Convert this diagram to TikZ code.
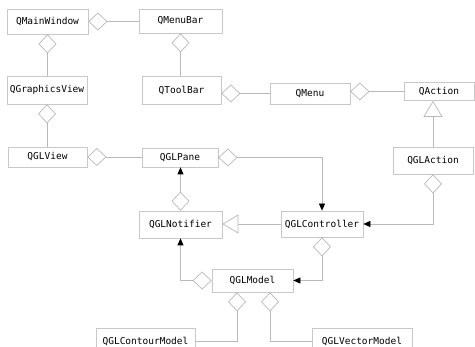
\documentclass[tikz,border=0pt]{standalone}
\usepackage{fontspec}
\setmonofont{DejaVu Sans Mono}
\usetikzlibrary{arrows.meta}
\definecolor{boxgray}{RGB}{200,200,200}
\definecolor{linegray}{RGB}{185,185,185}
\begin{document}
\begin{tikzpicture}[x=1pt,y=-1pt,
  cls/.style={draw=boxgray, line width=0.7pt, fill=white, inner sep=0pt,
    font=\fontsize{9.5}{11}\selectfont\ttfamily},
  conn/.style={draw=linegray, line width=0.7pt},
  agg/.style={conn, {Diamond[open,length=19pt,width=18pt]}-},
  aggto/.style={conn, {Diamond[open,length=19pt,width=18pt]}-{Triangle[length=7pt,width=6pt,color=black]}},
  inh/.style={conn, -{Triangle[open,length=16pt,width=19pt]}}]
\fill[white] (0,0) rectangle (475,347);
\useasboundingbox (0,0) rectangle (475,347);

% classes
\node[cls, minimum width=81pt, minimum height=25pt] (QMainWindow) at (47.5,21.5) {QMainWindow};
\node[cls, minimum width=83pt, minimum height=24pt] (QMenuBar) at (180.5,21) {QMenuBar};
\node[cls, minimum width=80pt, minimum height=28pt] (QGraphicsView) at (47,90) {QGraphicsView};
\node[cls, minimum width=79pt, minimum height=28pt] (QToolBar) at (181.5,90) {QToolBar};
\node[cls, minimum width=80pt, minimum height=21pt] (QMenu) at (310,93.5) {QMenu};
\node[cls, minimum width=70pt, minimum height=18pt] (QAction) at (439,91.5) {QAction};
\node[cls, minimum width=79pt, minimum height=20pt] (QGLView) at (47.5,157) {QGLView};
\node[cls, minimum width=76pt, minimum height=19pt] (QGLPane) at (180,157.5) {QGLPane};
\node[cls, minimum width=80pt, minimum height=27pt] (QGLAction) at (433,160.5) {QGLAction};
\node[cls, minimum width=83pt, minimum height=27pt] (QGLNotifier) at (180.5,224.5) {QGLNotifier};
\node[cls, minimum width=82pt, minimum height=26pt] (QGLController) at (322,224) {QGLController};
\node[cls, minimum width=81pt, minimum height=23pt] (QGLModel) at (252.5,280.5) {QGLModel};
\node[cls, minimum width=99pt, minimum height=26pt] (QGLContourModel) at (145.5,341) {QGLContourModel};
\node[cls, minimum width=100pt, minimum height=26pt] (QGLVectorModel) at (362,341) {QGLVectorModel};

% aggregation points under QGLModel
\coordinate (mL) at ([xshift=-15.5pt]QGLModel.south);
\coordinate (mR) at ([xshift=17.5pt]QGLModel.south);

% connectors
\draw[agg] (QMainWindow.east) -- (QMainWindow.east -| QMenuBar.west);
\draw[agg] (QMainWindow.south) -- (QMainWindow.south |- QGraphicsView.north);
\draw[agg] (QMenuBar.south) -- (QMenuBar.south |- QToolBar.north);
\draw[agg] (QToolBar.east |- QMenu.west) -- (QMenu.west);
\draw[agg] (QMenu.east |- QAction.west) -- (QAction.west);
\draw[inh] (QGLAction.north) -- (QGLAction.north |- QAction.south);
\draw[agg] (QGraphicsView.south) -- (QGraphicsView.south |- QGLView.north);
\draw[agg] (QGLView.east) -- (QGLView.east -| QGLPane.west);
\draw[aggto] (QGLPane.east) -- (QGLController.north |- QGLPane.east) -- (QGLController.north);
\draw[aggto] (QGLNotifier.north) -- (QGLNotifier.north |- QGLPane.south);
\draw[inh] (QGLController.west) -- (QGLController.west -| QGLNotifier.east);
\draw[aggto] (QGLAction.south) -- (QGLAction.south |- QGLController.east) -- (QGLController.east);
\draw[aggto] (QGLModel.west) -- (QGLModel.west -| QGLNotifier.south) -- (QGLNotifier.south);
\draw[aggto] (QGLController.south) -- (QGLController.south |- QGLModel.east) -- (QGLModel.east);
\draw[agg] (mL) -- (mL |- QGLContourModel.east) -- (QGLContourModel.east);
\draw[agg] (mR) -- (mR |- QGLVectorModel.west) -- (QGLVectorModel.west);
\end{tikzpicture}
\end{document}
